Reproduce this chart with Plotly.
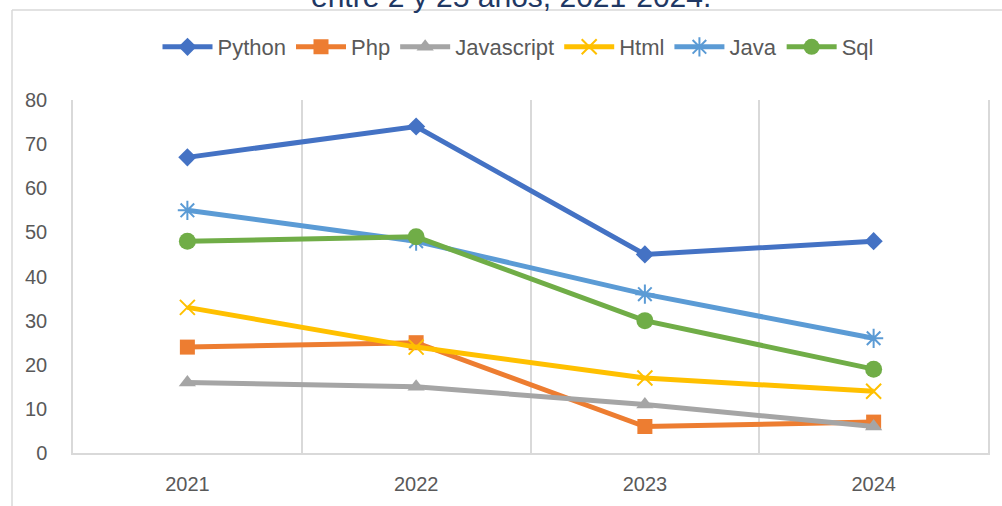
import plotly.graph_objects as go

years = [2021, 2022, 2023, 2024]
year_labels = ["2021", "2022", "2023", "2024"]
python_vals = [67, 74, 45, 48]
php_vals = [24, 25, 6, 7]
javascript_vals = [16, 15, 11, 6]
html_vals = [33, 24, 17, 14]
java_vals = [55, 48, 36, 26]
sql_vals = [48, 49, 30, 19]
title_text = "entre 2 y 25 años, 2021-2024."

W, H = 1002, 506
L, R, T, B = 73, 14, 100, 53
pw, ph = W - L - R, H - T - B


def px_x(p):
    return (p - L) / pw


def px_y(p):
    return (H - B - p) / ph


series = [
    ("Python", python_vals, "#4472C4", "diamond", 14, None),
    ("Php", php_vals, "#ED7D31", "square", 15, None),
    ("Javascript", javascript_vals, "#A5A5A5", "triangle-up", 15, None),
    ("Html", html_vals, "#FFC000", "x-thin-open", 15, 2),
    ("Java", java_vals, "#5B9BD5", "asterisk-open", 16, 2),
    ("Sql", sql_vals, "#70AD47", "circle", 17, None),
]

fig = go.Figure()
for name, vals, color, sym, size, lw in series:
    marker = dict(symbol=sym, size=size, color=color)
    if lw:
        marker["line"] = dict(color=color, width=lw)
    else:
        marker["line"] = dict(width=0)
    fig.add_trace(go.Scatter(
        x=years, y=vals, name=name, mode="lines+markers",
        line=dict(color=color, width=5), marker=marker,
    ))

fig.update_layout(
    width=W, height=H,
    margin=dict(l=L, r=R, t=T, b=B),
    paper_bgcolor="white", plot_bgcolor="white",
    font=dict(family="Liberation Sans", color="#595959"),
    showlegend=True,
    legend=dict(orientation="h", x=px_x(518), xanchor="center", y=px_y(47), yanchor="middle",
                font=dict(size=22, color="#595959", family="Liberation Sans"),
                itemwidth=50, traceorder="normal"),
    xaxis=dict(range=[2020.5, 2024.5], tickvals=years, ticktext=year_labels,
               showgrid=False, zeroline=False, showline=True, linecolor="#D9D9D9", linewidth=1.5,
               ticks="", ticklabelstandoff=12, tickfont=dict(size=20, color="#595959")),
    yaxis=dict(range=[0, 80], dtick=10, showgrid=False, zeroline=False,
               showline=True, mirror=True, linecolor="#D9D9D9", linewidth=1.5,
               ticks="", ticklabelstandoff=20, tickfont=dict(size=20, color="#595959")),
    annotations=[dict(text=title_text, xref="paper", yref="paper", x=px_x(511), y=px_y(15),
                      xanchor="center", yanchor="bottom", showarrow=False,
                      font=dict(size=30, color="#1F3864", family="Liberation Sans"))],
    shapes=[
        dict(type="line", xref="paper", yref="paper", x0=px_x(12), x1=px_x(12),
             y0=px_y(10), y1=px_y(520), line=dict(color="#D9D9D9", width=1.5)),
        dict(type="line", xref="paper", yref="paper", x0=px_x(12), x1=px_x(1020),
             y0=px_y(10), y1=px_y(10), line=dict(color="#D9D9D9", width=1.5)),
    ],
)
fig.update_xaxes(minor=dict(tickvals=[2021.5, 2022.5, 2023.5], showgrid=True,
                            gridcolor="#D9D9D9", gridwidth=1.5, ticks=""))

fig.write_html("out.html", config={"displayModeBar": False},
               post_script="document.body.style.margin='0';")
